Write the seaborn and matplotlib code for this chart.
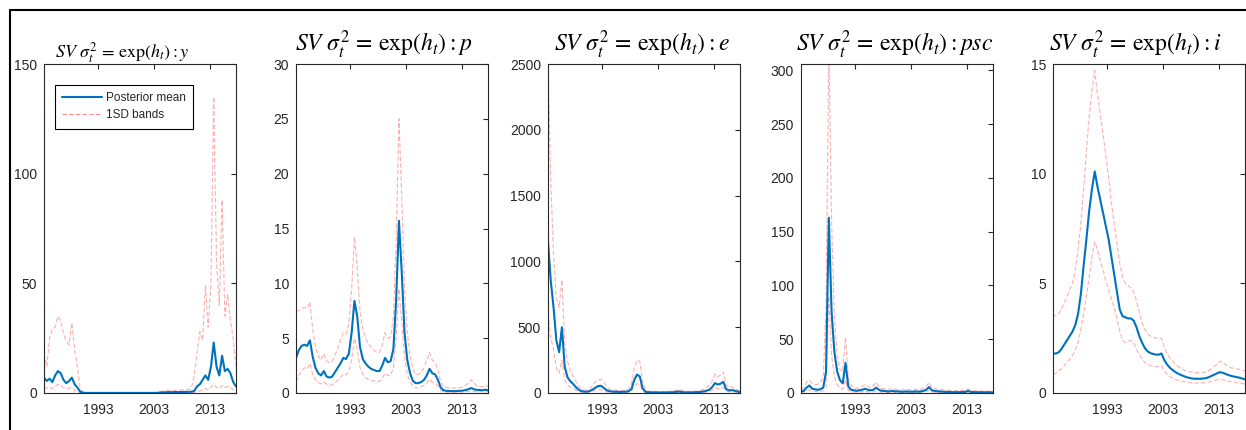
import numpy as np
import pandas as pd
import matplotlib
matplotlib.use("Agg")
import matplotlib.pyplot as plt
import seaborn as sns
from matplotlib.lines import Line2D

# Semi-annual time axis (x)
years = np.arange(1983.25, 2018.0, 0.5)

# ---- Panel y ----
y_mean = [7, 5.5, 6.5, 5, 8, 10, 9, 6, 4.5, 5.5,
          7, 4, 2.5, 0.6, 0.1, 0.05, 0.04, 0.04, 0.03, 0.03,
          0.03, 0.03, 0.03, 0.03, 0.03, 0.03, 0.03, 0.03, 0.03, 0.03,
          0.03, 0.03, 0.04, 0.03, 0.03, 0.04, 0.03, 0.03, 0.03, 0.04,
          0.05, 0.1, 0.25, 0.3, 0.35, 0.4, 0.4, 0.45, 0.4, 0.5,
          0.45, 0.5, 0.5, 0.6, 1.0, 3, 4, 6, 8, 6,
          12, 23, 12, 8, 17, 10, 11, 9, 5, 3]
y_hi = [18, 12, 25, 29, 30, 35, 33, 27, 24, 22,
        32, 20, 12, 2, 0.5, 0.2, 0.15, 0.12, 0.1, 0.1,
        0.1, 0.1, 0.1, 0.1, 0.1, 0.1, 0.1, 0.1, 0.1, 0.1,
        0.1, 0.1, 0.1, 0.1, 0.1, 0.1, 0.1, 0.1, 0.1, 0.1,
        0.15, 0.3, 0.8, 1.0, 1.1, 1.2, 1.2, 1.3, 1.2, 1.4,
        1.3, 1.5, 1.6, 2.5, 8, 18, 28, 24, 49, 30,
        50, 135, 60, 40, 88, 35, 45, 33, 25, 12]
y_lo = [3, 2, 2.5, 2, 3, 4, 3.5, 2.5, 2, 2.2,
        2.5, 1.2, 0.6, 0.15, 0.02, 0.01, 0.01, 0.01, 0.01, 0.01,
        0.01, 0.01, 0.01, 0.01, 0.01, 0.01, 0.01, 0.01, 0.01, 0.01,
        0.01, 0.01, 0.01, 0.01, 0.01, 0.01, 0.01, 0.01, 0.01, 0.01,
        0.01, 0.02, 0.05, 0.07, 0.08, 0.1, 0.1, 0.1, 0.1, 0.12,
        0.1, 0.12, 0.12, 0.15, 0.25, 0.8, 1.0, 1.5, 2.0, 1.5,
        2.5, 4.0, 2.5, 2.0, 3.5, 2.5, 3.0, 2.5, 1.5, 1.0]

# ---- Panel p ----
p_mean = [3.2, 3.9, 4.3, 4.4, 4.3, 4.8, 3.3, 2.3, 1.8, 1.6,
          2.0, 1.5, 1.4, 1.5, 1.9, 2.3, 2.7, 3.2, 3.1, 3.6,
          5.5, 8.4, 7.0, 4.2, 3.1, 2.7, 2.4, 2.2, 2.1, 2.0,
          2.0, 2.5, 3.2, 2.8, 2.9, 4.0, 8.5, 15.7, 11.0, 5.5,
          3.0, 1.8, 1.1, 0.9, 0.9, 1.0, 1.2, 1.6, 2.2, 1.8,
          1.7, 1.2, 0.5, 0.25, 0.2, 0.18, 0.17, 0.17, 0.18, 0.2,
          0.22, 0.27, 0.35, 0.45, 0.35, 0.27, 0.28, 0.25, 0.3, 0.25]
p_hi = [7.5, 7.5, 7.7, 7.8, 7.7, 8.3, 5.8, 4.2, 3.4, 3.0,
        3.6, 2.9, 2.8, 2.9, 3.4, 4.1, 4.8, 5.5, 5.4, 6.3,
        9.5, 14.2, 11.5, 7.5, 5.8, 5.0, 4.5, 4.1, 3.9, 3.7,
        3.7, 4.4, 5.5, 5.0, 5.1, 7.0, 14.0, 25.0, 18.0, 9.5,
        5.5, 3.4, 2.2, 1.7, 1.7, 1.9, 2.3, 3.0, 3.7, 3.0,
        2.8, 2.1, 1.0, 0.55, 0.5, 0.47, 0.45, 0.45, 0.47, 0.5,
        0.55, 0.7, 0.9, 1.2, 0.9, 0.65, 0.6, 0.55, 0.7, 0.6]
p_lo = [1.0, 1.6, 2.0, 2.3, 2.2, 2.7, 1.7, 1.2, 0.95, 0.85,
        1.0, 0.8, 0.7, 0.75, 0.95, 1.15, 1.4, 1.7, 1.65, 2.0,
        3.0, 5.0, 4.0, 2.3, 1.7, 1.4, 1.25, 1.15, 1.1, 1.05,
        1.05, 1.3, 1.8, 1.6, 1.6, 2.3, 5.0, 9.5, 6.5, 3.3,
        1.7, 1.0, 0.6, 0.47, 0.47, 0.55, 0.7, 0.9, 1.25, 1.0,
        0.9, 0.6, 0.25, 0.12, 0.09, 0.08, 0.08, 0.08, 0.08, 0.09,
        0.1, 0.12, 0.15, 0.2, 0.15, 0.12, 0.12, 0.11, 0.13, 0.11]

# ---- Panel e ----
e_mean = [1150, 850, 650, 400, 310, 500, 200, 120, 90, 70,
          45, 25, 15, 10, 10, 15, 25, 40, 52, 55,
          40, 22, 14, 11, 10, 9, 8, 9, 10, 14,
          30, 100, 140, 125, 35, 10, 6, 5, 5, 4,
          4, 4, 4, 5, 5, 6, 8, 12, 8, 5,
          5, 5, 5, 6, 7, 9, 12, 18, 25, 45,
          75, 65, 70, 85, 30, 20, 22, 18, 12, 6]
e_hi = [2500, 1600, 1050, 720, 650, 860, 380, 240, 170, 130,
        90, 50, 30, 22, 22, 30, 55, 85, 100, 105,
        85, 48, 30, 25, 22, 20, 18, 20, 22, 30,
        70, 190, 250, 240, 90, 25, 14, 12, 12, 11,
        11, 11, 11, 13, 14, 15, 20, 28, 20, 14,
        13, 13, 14, 15, 18, 22, 30, 42, 55, 90,
        145, 125, 135, 160, 65, 42, 45, 35, 25, 14]
e_lo = [600, 420, 330, 190, 150, 250, 100, 60, 45, 35,
        22, 12, 7, 5, 5, 7, 14, 22, 26, 25,
        18, 9, 6, 5, 4, 4, 3, 4, 4, 6,
        15, 45, 70, 65, 18, 4, 2.5, 2, 2, 2,
        2, 2, 2, 2, 2.5, 3, 3.5, 5, 3.5, 2,
        2, 2, 2, 2.5, 3, 4, 5, 8, 11, 22,
        38, 32, 35, 42, 14, 9, 10, 8, 5, 2.5]

# ---- Panel psc ----
psc_mean = [1.5, 2, 5, 7, 4, 3.5, 3, 3.5, 5, 20,
            163, 75, 38, 20, 12, 9, 28, 6, 3, 2.5,
            2, 2.5, 3, 4, 3, 2.5, 3, 5, 3, 2,
            2, 1.5, 1.5, 2, 1.5, 1.5, 1.2, 1.2, 1.5, 1.2,
            1.2, 1.5, 1.2, 1.5, 2, 3, 5.5, 2.5, 2, 1.5,
            1.5, 1.2, 1, 1, 0.8, 0.8, 0.8, 0.8, 0.9, 1,
            2, 1, 0.8, 0.8, 0.7, 0.7, 0.7, 0.7, 0.7, 0.6]
psc_hi = [3, 5, 10, 12, 9, 8, 8, 10, 15, 80,
          320, 160, 70, 35, 22, 20, 52, 14, 7, 5,
          4, 5, 6, 8, 6, 5, 7, 10, 6, 4,
          4, 3.5, 3.5, 4.5, 3.5, 3.2, 3, 3, 3.5, 3,
          3, 3.5, 3, 3.5, 4.5, 6, 10, 5, 4, 3.5,
          3.5, 3, 2.5, 2.5, 2.2, 2.2, 2.2, 2.2, 2.5, 2.5,
          4, 2.5, 2.2, 2, 2, 1.8, 1.8, 1.8, 1.8, 1.6]
psc_lo = [0.7, 0.8, 2, 3, 1.8, 1.5, 1.3, 1.5, 2, 5,
          90, 35, 15, 8, 4.5, 3.5, 12, 2.5, 1.2, 1,
          0.8, 1, 1.2, 1.6, 1.2, 1, 1.2, 2, 1.2, 0.8,
          0.8, 0.6, 0.6, 0.8, 0.6, 0.6, 0.5, 0.5, 0.6, 0.5,
          0.5, 0.6, 0.5, 0.6, 0.8, 1.2, 2.5, 1, 0.8, 0.6,
          0.6, 0.5, 0.4, 0.4, 0.3, 0.3, 0.3, 0.3, 0.35, 0.4,
          0.8, 0.4, 0.3, 0.3, 0.3, 0.3, 0.3, 0.3, 0.3, 0.25]

# ---- Panel i ----
i_mean = [1.8, 1.8, 1.85, 2.0, 2.2, 2.4, 2.6, 2.8, 3.1, 3.6,
          4.5, 5.8, 7.0, 8.3, 9.3, 10.1, 9.4, 8.8, 8.2, 7.6,
          7.0, 6.2, 5.4, 4.6, 3.8, 3.5, 3.45, 3.4, 3.4, 3.3,
          3.0, 2.6, 2.3, 2.05, 1.9, 1.82, 1.78, 1.75, 1.75, 1.8,
          1.5, 1.3, 1.15, 1.05, 0.95, 0.88, 0.82, 0.77, 0.72, 0.69,
          0.66, 0.65, 0.65, 0.65, 0.66, 0.68, 0.72, 0.78, 0.84, 0.9,
          0.95, 0.92, 0.87, 0.82, 0.78, 0.75, 0.72, 0.7, 0.66, 0.62]
i_hi = [3.6, 3.5, 3.6, 3.8, 4.1, 4.4, 4.7, 5.0, 5.6, 6.5,
        7.7, 9.3, 11.0, 12.6, 13.8, 14.7, 13.6, 12.7, 11.8, 10.8,
        9.8, 8.7, 7.7, 6.8, 5.9, 5.3, 5.0, 4.9, 4.8, 4.6,
        4.2, 3.7, 3.2, 2.9, 2.7, 2.6, 2.55, 2.5, 2.5, 2.5,
        2.1, 1.8, 1.6, 1.45, 1.3, 1.2, 1.12, 1.05, 1.0, 0.97,
        0.95, 0.93, 0.92, 0.92, 0.93, 0.97, 1.03, 1.12, 1.22, 1.32,
        1.45, 1.4, 1.3, 1.2, 1.15, 1.12, 1.1, 1.08, 1.05, 1.0]
i_lo = [0.85, 0.9, 1.0, 1.1, 1.25, 1.4, 1.55, 1.7, 1.95, 2.3,
        2.9, 3.6, 4.4, 5.3, 6.2, 6.9, 6.5, 6.0, 5.6, 5.1,
        4.7, 4.3, 3.9, 3.4, 2.8, 2.4, 2.3, 2.35, 2.4, 2.3,
        2.0, 1.75, 1.55, 1.4, 1.3, 1.25, 1.22, 1.2, 1.22, 1.25,
        1.0, 0.85, 0.75, 0.68, 0.62, 0.58, 0.55, 0.52, 0.5, 0.48,
        0.46, 0.45, 0.45, 0.45, 0.46, 0.48, 0.5, 0.53, 0.57, 0.6,
        0.62, 0.6, 0.57, 0.54, 0.52, 0.5, 0.48, 0.46, 0.44, 0.4]

var_names = ["y", "p", "e", "psc", "i"]
series = {"y": (y_mean, y_lo, y_hi), "p": (p_mean, p_lo, p_hi),
          "e": (e_mean, e_lo, e_hi), "psc": (psc_mean, psc_lo, psc_hi),
          "i": (i_mean, i_lo, i_hi)}
ylims = {"y": (0, 150), "p": (0, 30), "e": (0, 2500), "psc": (0, 306), "i": (0, 15)}
yticks = {"y": [0, 50, 100, 150], "p": [0, 5, 10, 15, 20, 25, 30],
          "e": [0, 500, 1000, 1500, 2000, 2500],
          "psc": [0, 50, 100, 150, 200, 250, 300], "i": [0, 5, 10, 15]}
xticks = [1993, 2003, 2013]
legend_labels = ["Posterior mean", "1SD bands"]

sns.set_theme(style="white")
plt.rcParams["font.family"] = ["Liberation Sans", "DejaVu Sans"]
plt.rcParams["mathtext.fontset"] = "stix"

W, H = 1246, 430
fig = plt.figure(figsize=(W / 100, H / 100), dpi=100)
fig.patch.set_facecolor("white")

blue = "#0072BD"
band = "#ff8c8c"
axc = "#262626"
lefts = [44, 296, 548, 801, 1053]
title_x = [0.41, 0.455, 0.487, 0.49, 0.43]
title_y = [1.02, 1.037, 1.037, 1.037, 1.037]
title_fs = [13, 17, 17, 17, 17]

for k, name in enumerate(var_names):
    m, lo, hi = series[name]
    ax = fig.add_axes([lefts[k] / W, (H - 393) / H, 192 / W, 329 / H])
    df = pd.DataFrame({"year": years, "mean": m, "lo": lo, "hi": hi})
    for col in ["hi", "lo"]:
        sns.lineplot(data=df, x="year", y=col, ax=ax, color=band, lw=0.8,
                     linestyle="--", alpha=0.7)
        ax.lines[-1].set_dashes([4, 2])
    sns.lineplot(data=df, x="year", y="mean", ax=ax, color=blue, lw=1.5)
    ax.set_xlim(years[0], years[-1])
    ax.set_ylim(*ylims[name])
    ax.set_xticks(xticks)
    ax.set_yticks(yticks[name])
    ax.set_xlabel("")
    ax.set_ylabel("")
    for s in ax.spines.values():
        s.set_color(axc)
        s.set_linewidth(0.8)
    ax.tick_params(direction="in", top=True, right=True, length=3.5, width=0.8,
                   color=axc, labelcolor=axc, labelsize=10)
    ax.tick_params(axis="y", pad=5)
    ax.tick_params(axis="x", pad=7)
    ax.text(title_x[k], title_y[k],
            r"$SV\ \sigma_t^2 \,=\, \exp(h_t) : %s$" % name,
            transform=ax.transAxes, ha="center", va="baseline",
            fontsize=title_fs[k], color="black")
    if k == 0:
        handles = [Line2D([], [], color=blue, lw=1.5),
                   Line2D([], [], color=band, lw=0.8, dashes=[4, 2])]
        leg = ax.legend(handles, legend_labels, loc="upper left",
                        bbox_to_anchor=(0.057, 0.936), borderaxespad=0,
                        fontsize=8.5, handlelength=3.4, fancybox=False,
                        framealpha=1, edgecolor="black", borderpad=0.6,
                        labelspacing=0.45, handletextpad=0.3)
        leg.get_frame().set_linewidth(0.8)

# figure border lines (left and top)
fig.add_artist(Line2D([10 / W, 10 / W], [0, (H - 10) / H], transform=fig.transFigure,
                      color="black", lw=1.5))
fig.add_artist(Line2D([10 / W, 1], [(H - 10) / H, (H - 10) / H], transform=fig.transFigure,
                      color="black", lw=1.5))

fig.savefig("out.png", dpi=100)
